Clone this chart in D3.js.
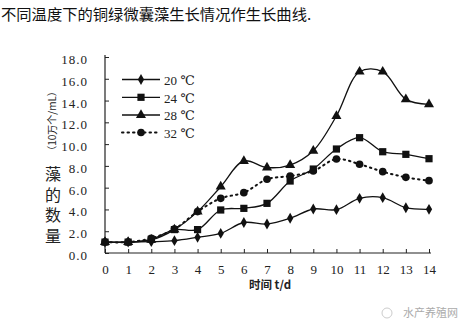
<!DOCTYPE html>
<html><head><meta charset="utf-8">
<script src="https://cdn.jsdelivr.net/npm/d3@7"></script>
<style>body{margin:0;background:#fff;} svg{display:block;}</style>
</head><body>
<script>
const days = [0,1,2,3,4,5,6,7,8,9,10,11,12,13,14];
const s20 = [1.0,1.0,1.04,1.13,1.44,1.8,2.8,2.66,3.19,4.04,3.98,5.02,5.08,4.16,4.01];
const s24 = [1.0,1.0,1.26,2.15,2.15,3.95,4.1,4.56,6.61,7.71,9.55,10.59,9.3,9.06,8.66];
const s28 = [1.0,1.0,1.2,2.15,3.8,6.09,8.45,7.85,8.08,9.39,12.58,16.65,16.65,14.11,13.65];
const s32 = [1.0,1.0,1.35,2.2,3.8,5.02,5.54,6.77,7.07,7.53,8.63,8.15,7.47,6.95,6.64];
const seriesNames = ["20 ℃","24 ℃","28 ℃","32 ℃"];
const yTicks = [0,2,4,6,8,10,12,14,16,18];
const title = "不同温度下的铜绿微囊藻生长情况作生长曲线.";

const W=474,H=335;
const svg=d3.select("body").append("svg").attr("width",W).attr("height",H);
const x=d3.scaleLinear().domain([0,14]).range([105,429]);
const y=d3.scaleLinear().domain([0,18]).range([253,57]);
const serif="'Liberation Serif','DejaVu Serif',serif";
const cjk="'Noto Sans CJK SC','Noto Sans',sans-serif";

svg.append("text").attr("x",1).attr("y",20).attr("font-family",cjk).attr("font-size",15.3)
  .attr("fill","#111").text(title);

// axes
const ya=svg.append("g").attr("transform",`translate(${x(0)},0)`)
  .call(d3.axisLeft(y).tickValues(yTicks).tickFormat(d3.format(".1f")).tickSizeInner(-4).tickSizeOuter(0).tickPadding(17));
ya.select(".domain").attr("d",`M0,${y(0)}V${y(18)-2}`).attr("stroke","#222").attr("stroke-width",1.2);
ya.selectAll("line").attr("stroke","#222");
ya.selectAll("text").attr("font-family",serif).attr("font-size",13).attr("letter-spacing","1px")
  .attr("fill","#222").attr("dy","0.5em");

const xa=svg.append("g").attr("transform",`translate(0,${y(0)})`)
  .call(d3.axisBottom(x).tickValues(days).tickFormat(d3.format("d")).tickSizeInner(-4).tickSizeOuter(0).tickPadding(12));
xa.select(".domain").attr("d",`M${x(0)},0H${x(14)+2}`).attr("stroke","#222").attr("stroke-width",1.2);
xa.selectAll("line").attr("stroke","#222");
xa.selectAll("text").attr("font-family",serif).attr("font-size",13).attr("fill","#222");

svg.append("text").attr("x",249).attr("y",289).attr("font-family",cjk).attr("font-size",11.5)
  .attr("font-weight","bold").attr("fill","#222").text("时间 t/d");

// y title (vertical)
svg.append("text").attr("x",53).attr("y",166).style("writing-mode","vertical-rl")
  .attr("letter-spacing","4.5px").attr("font-family",cjk).attr("font-size",16).attr("fill","#222").text("藻的数量");
svg.append("text").attr("transform","translate(56,121) rotate(-90)").attr("text-anchor","middle")
  .attr("font-family",cjk).attr("font-size",10).attr("fill","#222").text("（10万个/mL）");

// series
const data=[s20,s24,s28,s32];
const shapes=[d3.symbolDiamond,d3.symbolSquare,d3.symbolTriangle,d3.symbolCircle];
const sizes=[34,52,44,46];
const dash=[null,null,null,"1.5,4"];
const line=d3.line().x((d,i)=>x(days[i])).y(d=>y(d)).curve(d3.curveCatmullRom.alpha(0.5));
data.forEach((s,k)=>{
  svg.append("path").attr("d",line(s)).attr("fill","none").attr("stroke","#111")
    .attr("stroke-width",k==3?2:1.3).attr("stroke-dasharray",dash[k]).attr("stroke-linecap",k==3?"round":"butt");
  svg.selectAll(null).data(s).enter().append("path")
    .attr("transform",(d,i)=>`translate(${x(days[i])},${y(d)})`)
    .attr("d",d3.symbol().type(shapes[k]).size(sizes[k])).attr("fill","#111");
});

// legend
const legY=[79.5,97.3,115,132.5];
seriesNames.forEach((n,k)=>{
  svg.append("line").attr("x1",122).attr("x2",160).attr("y1",legY[k]).attr("y2",legY[k])
    .attr("stroke","#111").attr("stroke-width",k==3?2:1.3).attr("stroke-dasharray",dash[k]).attr("stroke-linecap",k==3?"round":"butt");
  svg.append("path").attr("transform",`translate(141,${legY[k]})`)
    .attr("d",d3.symbol().type(shapes[k]).size(sizes[k])).attr("fill","#111");
  svg.append("text").attr("x",164).attr("y",legY[k]).attr("dy","0.4em").attr("font-family",serif)
    .attr("font-size",13).attr("fill","#222").text(n);
});

// watermark
svg.append("text").attr("x",403).attr("y",317).attr("font-family",cjk).attr("font-size",11)
  .attr("fill","#aaa").text("水产养殖网");
svg.append("circle").attr("cx",387).attr("cy",313).attr("r",5).attr("fill","none").attr("stroke","#ccc");
</script>
</body></html>
